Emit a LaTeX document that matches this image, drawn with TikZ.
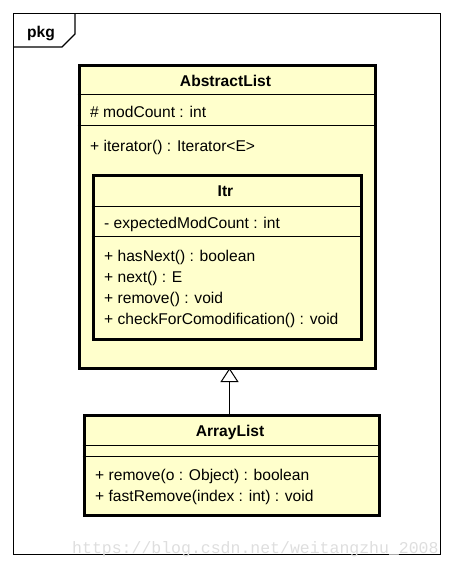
\documentclass[tikz,border=0pt]{standalone}
\usepackage{fontspec}
\setmainfont{Liberation Sans}
\newfontfamily\wmfont{Liberation Mono}
\usetikzlibrary{arrows.meta}
\definecolor{classfill}{RGB}{255,255,204}
\definecolor{wmgray}{RGB}{222,222,222}
\tikzset{
  classbox/.style={draw=black, line width=3pt, fill=classfill, inner sep=0pt, anchor=north west},
  sepline/.style={draw=black, line width=1pt},
  member/.style={anchor=base west, inner sep=0pt, font=\fontsize{15.6}{18}\selectfont},
  title/.style={anchor=base, inner sep=0pt, font=\fontsize{15.6}{18}\selectfont\bfseries},
  frameline/.style={draw=black, line width=1.2pt},
  inherit/.style={draw=black, line width=1pt, -{Triangle[open, length=14pt, width=18pt, fill=white]}}
}
\begin{document}
\begin{tikzpicture}[x=1pt,y=-1pt]
\useasboundingbox (0,0) rectangle (453,568);
% package frame
\node (frame) [frameline, draw, inner sep=0pt, minimum width=427pt, minimum height=541pt, anchor=north west] at (13,13) {};
\coordinate (tabA) at (13,47);
\coordinate (tabB) at (62,47);
\coordinate (tabC) at (75,34);
\coordinate (tabD) at (75,13);
\draw[frameline] (tabA) -- (tabB) -- (tabC) -- (tabD);
\node (pkg) [title] at (41,37) {pkg};

% AbstractList
\node (al) [classbox, minimum width=296pt, minimum height=303pt] at (77.5,63.5) {};
\draw[sepline] (al.west |- 0,94.3) -- (al.east |- 0,94.3);
\draw[sepline] (al.west |- 0,125.7) -- (al.east |- 0,125.7);
\node (altitle) [title] at (225.5,86.5) {AbstractList};
\node (almod) [member] at (90,117.5) {\# modCount : int};
\node (alit) [member] at (90,151) {+ iterator() : Iterator<E>};

% Itr
\node (itr) [classbox, minimum width=268pt, minimum height=164pt] at (91.5,173.5) {};
\draw[sepline] (itr.west |- 0,206.7) -- (itr.east |- 0,206.7);
\draw[sepline] (itr.west |- 0,236.7) -- (itr.east |- 0,236.7);
\node (itrtitle) [title] at (225.5,196.5) {Itr};
\node (itrexp) [member] at (104,228.5) {- expectedModCount : int};
\node (itrhas) [member] at (104,261) {+ hasNext() : boolean};
\node (itrnext) [member] at (104,282) {+ next() : E};
\node (itrrem) [member] at (104,303.3) {+ remove() : void};
\node (itrchk) [member] at (104,324.3) {+ checkForComodification() : void};

% ArrayList
\node (arr) [classbox, minimum width=295pt, minimum height=100pt] at (82.5,413.5) {};
\draw[sepline] (arr.west |- 0,445) -- (arr.east |- 0,445);
\draw[sepline] (arr.west |- 0,456) -- (arr.east |- 0,456);
\node (arrtitle) [title] at (230,436.5) {ArrayList};
\node (arrrem) [member] at (95,480) {+ remove(o : Object) : boolean};
\node (arrfast) [member] at (95,501.5) {+ fastRemove(index : int) : void};

% generalization
\coordinate (gtop) at (229.5,368);
\draw[inherit] (arr.north -| gtop) -- (gtop);

% watermark
\node (wm) [anchor=base west, inner sep=0pt, text=wmgray, font=\wmfont\fontsize{16.5}{18}\selectfont] at (72,553) {https://blog.csdn.net/weitangzhu\_2008};
\end{tikzpicture}
\end{document}
